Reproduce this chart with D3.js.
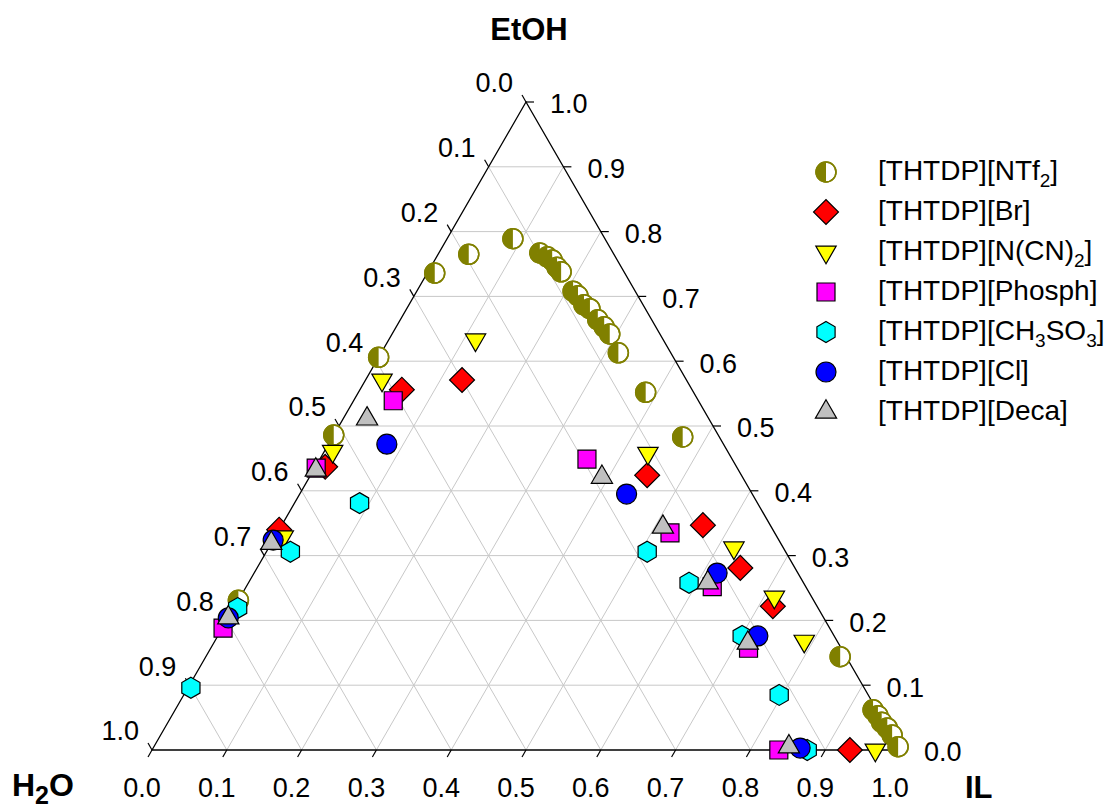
<!DOCTYPE html>
<html>
<head>
<meta charset="utf-8">
<script src="https://cdn.jsdelivr.net/npm/d3@7"></script>
<style>
body { margin: 0; background: #fff; }
svg { font-family: "Liberation Sans", Arial, sans-serif; }
</style>
</head>
<body>
<svg id="chart" width="1115" height="811"></svg>
<script>
// tick values shared by the three sides
var ticks = [0.0, 0.1, 0.2, 0.3, 0.4, 0.5, 0.6, 0.7, 0.8, 0.9, 1.0];

// every point is [IL, EtOH], water is whatever is left
var ntf2 = [[0.010,0.736],[0.041,0.765],[0.088,0.789],[0.0,0.606],[0.0,0.486],[0.0,0.231],
	[0.135,0.767],[0.148,0.761],[0.157,0.756],[0.169,0.745],[0.178,0.738],
	[0.209,0.708],[0.219,0.701],[0.234,0.687],[0.245,0.681],[0.264,0.664],[0.278,0.653],[0.291,0.642],[0.317,0.613],
	[0.384,0.552],[0.468,0.483],[0.848,0.144],
	[0.933,0.062],[0.944,0.053],[0.954,0.043],[0.966,0.034],[0.978,0.023],[0.995,0.005]];
var br = [[0.056,0.556],[0.013,0.437],[0.129,0.571],[0.450,0.424],[0.563,0.347],[0.646,0.281],[0.719,0.222],[0.933,0.0],[0.0,0.340]];
var ncn2 = [[0.022,0.571],[0.011,0.461],[0.116,0.633],[0.434,0.458],[0.622,0.312],[0.714,0.236],[0.788,0.168],[0.967,0.0],[0.011,0.329]];
var phosph = [[0.053,0.539],[0.002,0.435],[0.357,0.449],[0.525,0.335],[0.623,0.252],[0.719,0.157],[0.001,0.188],[0.838,0.0]];
var ch3so3 = [[0.087,0.381],[0.032,0.306],[0.005,0.219],[0.004,0.096],[0.509,0.306],[0.589,0.258],[0.701,0.176],[0.796,0.085],[0.876,0.0]];
var cl = [[0.078,0.472],[0.437,0.395],[0.619,0.273],[0.722,0.176],[0.0,0.324],[0.0,0.204],[0.865,0.003]];
var deca = [[0.032,0.511],[0.003,0.432],[0.391,0.421],[0.511,0.344],[0.614,0.258],[0.714,0.165],[0.0,0.319],[0.0,0.204],[0.849,0.005]];

var labels = ["[THTDP][NTf_2]", "[THTDP][Br]", "[THTDP][N(CN)_2]", "[THTDP][Phosph]",
	"[THTDP][CH_3SO_3]", "[THTDP][Cl]", "[THTDP][Deca]"];

var series = [
	{ data: ntf2, marker: "half", fill: "#808000" },
	{ data: br, marker: "diamond", fill: "#ff0000" },
	{ data: ncn2, marker: "down", fill: "#ffff00" },
	{ data: phosph, marker: "square", fill: "#ff00ff" },
	{ data: ch3so3, marker: "hexagon", fill: "#00ffff" },
	{ data: cl, marker: "circle", fill: "#0000ff" },
	{ data: deca, marker: "up", fill: "#c0c0c0" }
];

var svg = d3.select("#chart");

// x runs along the base (IL), y goes up to the EtOH corner
var x = d3.scaleLinear().domain([0, 1]).range([152, 900]);
var y = d3.scaleLinear().domain([0, 1]).range([750, 102]);
function px(il, et) { return x(il + et / 2); }
function py(et) { return y(et); }

//grid
var grid = svg.append("g").attr("stroke", "#c8c8c8").attr("stroke-width", 1);
ticks.slice(1, 10).forEach(function(v) {
	grid.append("line")	// constant EtOH
		.attr("x1", px(0, v)).attr("y1", py(v)).attr("x2", px(1 - v, v)).attr("y2", py(v));
	grid.append("line")	// constant IL
		.attr("x1", px(v, 0)).attr("y1", py(0)).attr("x2", px(v, 1 - v)).attr("y2", py(1 - v));
	grid.append("line")	// constant H2O
		.attr("x1", px(0, 1 - v)).attr("y1", py(1 - v)).attr("x2", px(1 - v, 0)).attr("y2", py(0));
});

// outline
svg.append("path")
	.attr("d", "M" + px(0, 0) + "," + py(0) + "L" + px(1, 0) + "," + py(0) + "L" + px(0, 1) + "," + py(1) + "Z")
	.attr("fill", "none").attr("stroke", "#000").attr("stroke-width", 1.3);

var axes = svg.append("g").attr("stroke", "#000").attr("stroke-width", 1.2);
var tl = svg.append("g").attr("font-size", 27).attr("fill", "#000");
ticks.forEach(function(v) {
	var s = v.toFixed(1);
	// bottom: IL
	var bx = px(v, 0), by = py(0);
	axes.append("line").attr("x1", bx).attr("y1", by).attr("x2", bx - 4).attr("y2", by + 7);
	tl.append("text").attr("x", bx - 10).attr("y", 797).attr("text-anchor", "middle").text(s);
	// right: EtOH
	var rx = px(1 - v, v), ry = py(v);
	axes.append("line").attr("x1", rx).attr("y1", ry).attr("x2", rx + 8).attr("y2", ry);
	tl.append("text").attr("x", rx + 24).attr("y", ry + 2).attr("dy", "0.35em").text(s);
	// left: H2O
	var lx = px(0, 1 - v), ly = py(1 - v);
	axes.append("line").attr("x1", lx).attr("y1", ly).attr("x2", lx - 4).attr("y2", ly - 7);
	tl.append("text").attr("x", lx - 13).attr("y", ly - 19).attr("dy", "0.35em")
		.attr("text-anchor", "end").text(s);
});

// axis titles
svg.append("text").attr("x", 529).attr("y", 40).attr("text-anchor", "middle")
	.attr("font-size", 31).attr("font-weight", "bold").text("EtOH");
svg.append("text").attr("x", 965).attr("y", 798)
	.attr("font-size", 31).attr("font-weight", "bold").text("IL");
var h2o = svg.append("text").attr("x", 12).attr("y", 796).attr("font-size", 32).attr("font-weight", "bold");
h2o.append("tspan").text("H");
h2o.append("tspan").attr("font-size", 25).attr("dy", 8).text("2");
h2o.append("tspan").attr("dy", -8).text("O");

// markers
function hexPath(r) {
	var pts = d3.range(6).map(function(k) {
		var a = -Math.PI / 2 + k * Math.PI / 3;
		return [r * Math.cos(a), r * Math.sin(a)];
	});
	return "M" + pts.join("L") + "Z";
}
function drawMarker(g, kind, fill) {
	if (kind == "half") {
		g.append("circle").attr("r", 10).attr("fill", "#fff").attr("stroke", fill).attr("stroke-width", 1.5);
		g.append("path").attr("d", "M0,-10A10,10 0 0,0 0,10Z").attr("fill", fill);
		g.append("circle").attr("r", 10).attr("fill", "none").attr("stroke", fill).attr("stroke-width", 1.5);
		return;
	}
	var p;
	if (kind == "circle") p = g.append("circle").attr("r", 10);
	else if (kind == "hexagon") p = g.append("path").attr("d", hexPath(10.5));
	else if (kind == "diamond") p = g.append("path").attr("d", d3.symbol(d3.symbolSquare, 310)()).attr("transform", "rotate(45)");
	else if (kind == "square") p = g.append("path").attr("d", d3.symbol(d3.symbolSquare, 324)());
	else if (kind == "down") p = g.append("path").attr("d", d3.symbol(d3.symbolTriangle, 180)()).attr("transform", "rotate(180)");
	else p = g.append("path").attr("d", d3.symbol(d3.symbolTriangle, 195)());
	p.attr("fill", fill).attr("stroke", "#000").attr("stroke-width", 1.2);
}

series.forEach(function(s) {
	svg.append("g").selectAll("g")
		.data(s.data)
		.enter().append("g")
		.attr("transform", function(d) { return "translate(" + px(d[0], d[1]) + "," + py(d[1]) + ")"; })
		.each(function() { drawMarker(d3.select(this), s.marker, s.fill); });
});

// legend
var legend = svg.append("g");
series.forEach(function(s, i) {
	var ly = 172 + i * 40;
	drawMarker(legend.append("g").attr("transform", "translate(826," + ly + ")"), s.marker, s.fill);
	var t = legend.append("text").attr("x", 878).attr("y", ly + 8).attr("font-size", 28);
	labels[i].split(/_(\d)/).forEach(function(part, j) {
		if (!part) return;
		if (j % 2 == 1) t.append("tspan").attr("font-size", 19).attr("dy", 7).text(part);
		else t.append("tspan").attr("dy", j > 0 ? -7 : 0).text(part);
	});
});
</script>
</body>
</html>
